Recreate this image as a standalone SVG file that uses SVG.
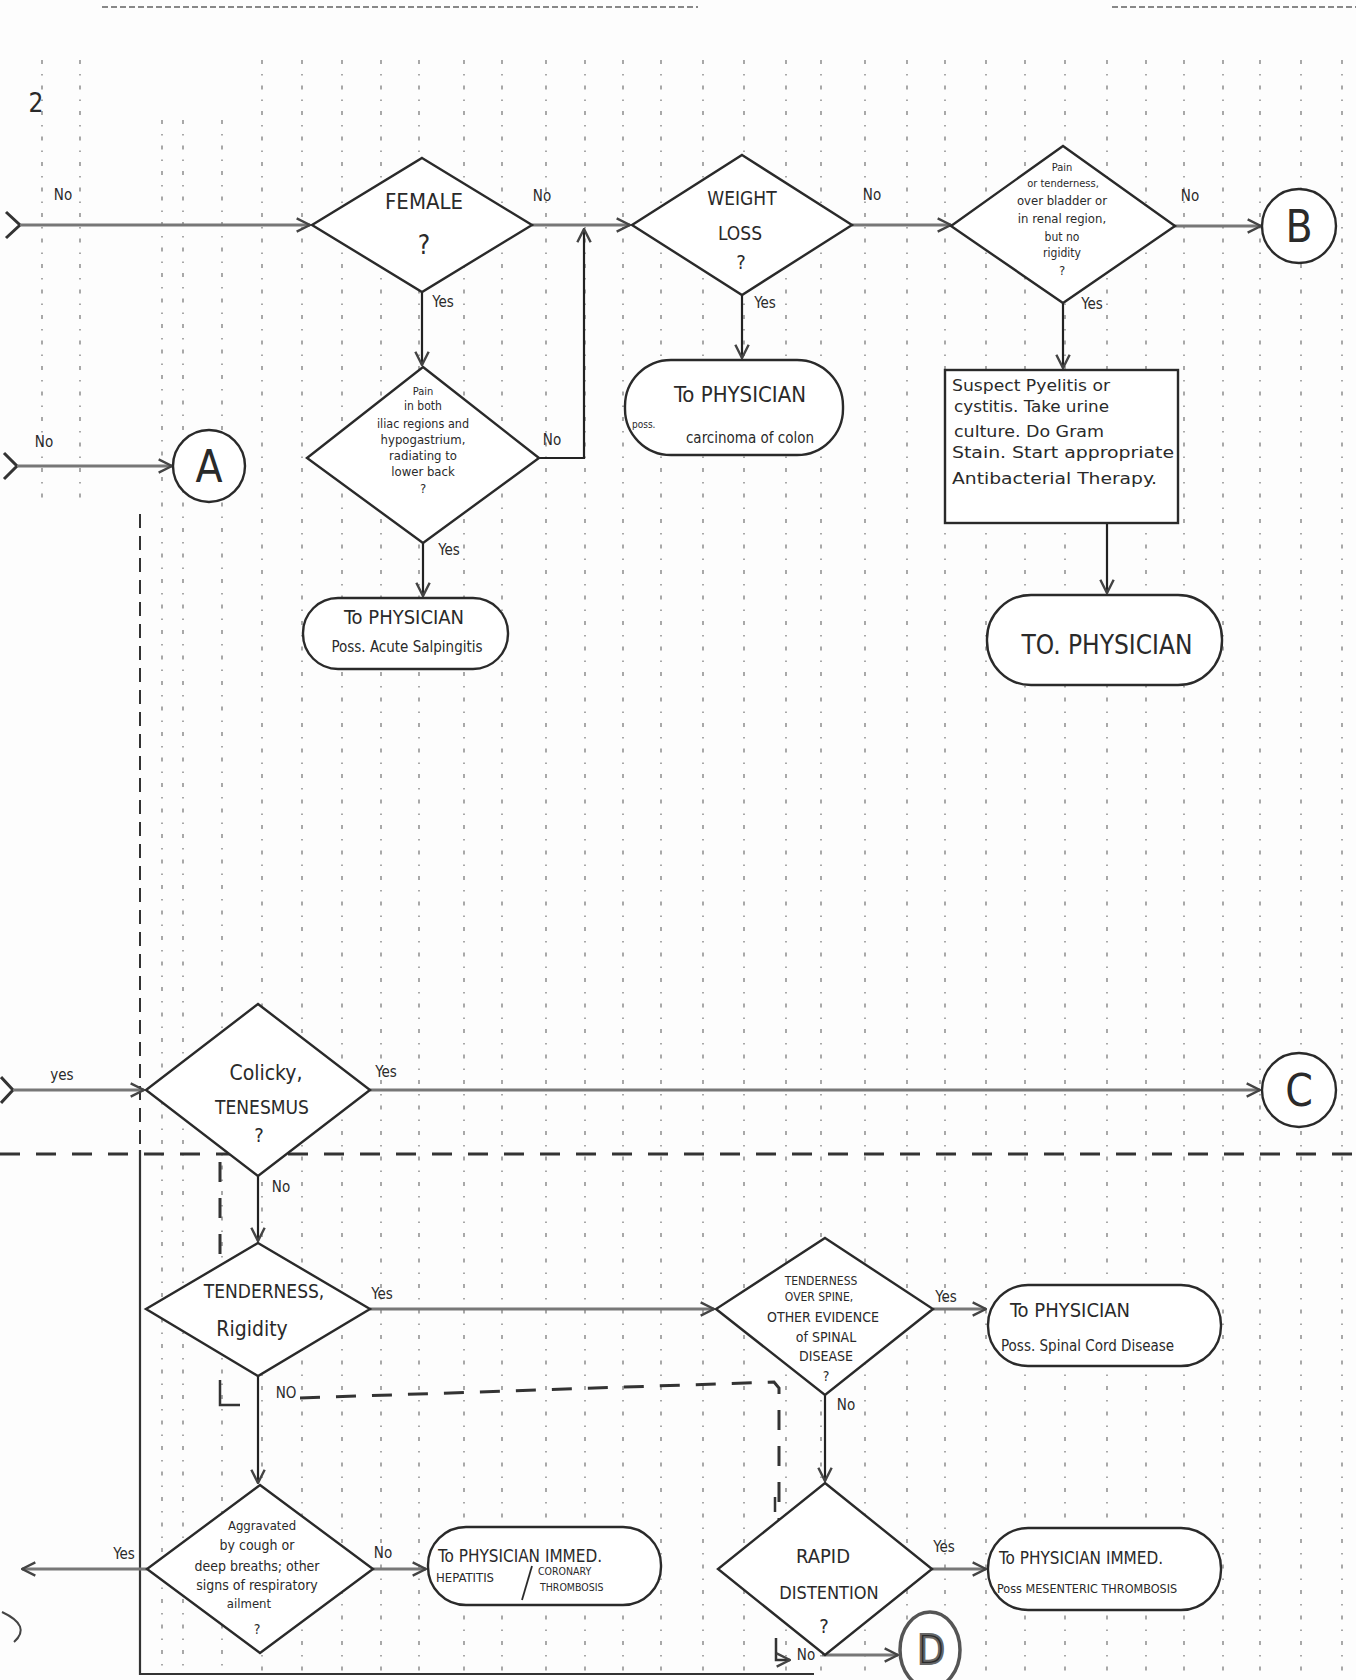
<svg xmlns="http://www.w3.org/2000/svg" width="1356" height="1680" viewBox="0 0 1356 1680">
<defs>
<style>
.bg{fill:#fdfdfd}
.grid{stroke:#5a5a5a;stroke-width:1.6;stroke-dasharray:4 10 1.5 10;fill:none;opacity:.65}
.nd{fill:#fff;stroke:#2a2a2a;stroke-width:2.4}
.t{font-family:"Liberation Sans Narrow","DejaVu Sans Condensed","Liberation Sans",sans-serif;fill:#2a2a2a;text-anchor:middle}
.s{text-anchor:start}
.lab{font-size:15px}
.h{stroke:#777;stroke-width:3;fill:none}
.v{stroke:#222;stroke-width:2.2;fill:none}
.tail{stroke:#333;stroke-width:3;fill:none}
.dash{stroke:#333;stroke-width:3;stroke-dasharray:20 16;fill:none}
.thin{stroke:#333;stroke-width:2.5;fill:none}
</style>
<marker id="ar" viewBox="0 0 12 12" markerWidth="16" markerHeight="16" refX="11" refY="6" orient="auto" markerUnits="userSpaceOnUse">
<path d="M1,1 L11,6 L1,11" fill="none" stroke="#444" stroke-width="1.8"/>
</marker>
</defs>
<rect class="bg" x="0" y="0" width="1356" height="1680"/>

<g id="background">
<path class="grid" d="M42,60 V500 M80,60 V500 M162,120 V1675 M183,120 V1675 M222,120 V1675 M262,60 V1675 M302,60 V1675 M342,60 V1675 M381,60 V1675 M419,60 V1675 M464,60 V1675 M502,60 V1675 M546,60 V1675 M585,60 V1675 M623,60 V1675 M661,60 V1675 M703,60 V1675 M744,60 V1675 M786,60 V1675 M821,60 V1675 M865,60 V1675 M907,60 V1675 M945,60 V1675 M986,60 V1675 M1025,60 V1675 M1065,60 V1675 M1107,60 V1675 M1146,60 V1675 M1184,60 V1675 M1223,60 V1675 M1260,60 V1675 M1301,60 V1675 M1342,60 V1675"/>
<path d="M102,7 H698 M1112,7 H1356" stroke="#555" stroke-width="2" stroke-dasharray="6 3" fill="none" opacity=".7"/>
<path d="M140,514 V1150" stroke="#333" stroke-width="2" stroke-dasharray="14 8" fill="none"/>
<path d="M140,1150 V1674 H814" stroke="#333" stroke-width="2.2" fill="none"/>
<path d="M2,1612 Q32,1626 14,1642" stroke="#444" stroke-width="2" fill="none"/>
<text class="t" x="36" y="112" font-size="26">2</text>
</g>

<g id="connectors">
<path class="tail" d="M6,212 L20,225 L6,238"/>
<path class="h" d="M20,225 H310" marker-end="url(#ar)"/>
<path class="h" d="M532,225 H630" marker-end="url(#ar)"/>
<path class="h" d="M852,225 H951" marker-end="url(#ar)"/>
<path class="h" d="M1173,226 H1261" marker-end="url(#ar)"/>
<path class="v" d="M422,292 V365" marker-end="url(#ar)"/>
<path class="v" d="M539,458 H584 V229" marker-end="url(#ar)"/>
<path class="v" d="M423,543 V596" marker-end="url(#ar)"/>
<path class="v" d="M742,295 V358" marker-end="url(#ar)"/>
<path class="v" d="M1063,303 V368" marker-end="url(#ar)"/>
<path class="v" d="M1107,523 V593" marker-end="url(#ar)"/>
<path class="tail" d="M4,453 L17,466 L4,479"/>
<path class="h" d="M17,466 H172" marker-end="url(#ar)"/>
<path class="tail" d="M1,1077 L13,1090 L1,1103"/>
<path class="h" d="M13,1090 H144" marker-end="url(#ar)"/>
<path class="h" d="M370,1090 H1260" marker-end="url(#ar)"/>
<path class="v" d="M258,1176 V1241" marker-end="url(#ar)"/>
<path class="h" d="M370,1309 H714" marker-end="url(#ar)"/>
<path class="h" d="M933,1309 H986" marker-end="url(#ar)"/>
<path class="v" d="M258,1376 V1483" marker-end="url(#ar)"/>
<path class="v" d="M825,1395 V1481" marker-end="url(#ar)"/>
<path class="h" d="M373,1569 H426" marker-end="url(#ar)"/>
<path class="h" d="M147,1569 H22" marker-end="url(#ar)"/>
<path class="h" d="M932,1569 H986" marker-end="url(#ar)"/>
<path class="h" d="M822,1655 H898" marker-end="url(#ar)"/>
<path class="dash" d="M0,1154 H1356"/>
<path class="dash" d="M220,1162 V1255"/>
<path class="thin" d="M220,1380 V1405 H240"/>
<path class="dash" d="M300,1398 L774,1382 L779,1388 V1545"/>
<path class="thin" d="M775,1497 V1512 M775,1598 V1614"/>
<path class="thin" d="M776,1638 V1660 H790" marker-end="url(#ar)"/>
</g>

<g id="n-female">
<path class="nd" d="M422,158 L532,225 L422,292 L312,225 Z"/>
<text class="t" x="424" y="209" font-size="22">FEMALE</text>
<text class="t" x="424" y="254" font-size="26">?</text>
</g>
<g id="n-weightloss">
<path class="nd" d="M742,155 L852,225 L742,295 L632,225 Z"/>
<text class="t" x="742" y="205" font-size="19">WEIGHT</text>
<text class="t" x="740" y="240" font-size="19">LOSS</text>
<text class="t" x="741" y="269" font-size="20">?</text>
</g>
<g id="n-bladder">
<path class="nd" d="M1063,146 L1175,226 L1063,303 L951,226 Z"/>
<text class="t" x="1062" y="171" font-size="11">Pain</text>
<text class="t" x="1063" y="187" font-size="11">or tenderness,</text>
<text class="t" x="1062" y="205" font-size="13">over bladder or</text>
<text class="t" x="1062" y="223" font-size="13">in renal region,</text>
<text class="t" x="1062" y="241" font-size="12">but no</text>
<text class="t" x="1062" y="257" font-size="12">rigidity</text>
<text class="t" x="1062" y="275" font-size="13">?</text>
</g>
<g id="n-B">
<circle class="nd" cx="1299" cy="226" r="37"/>
<text class="t" x="1299" y="242" font-size="44">B</text>
</g>
<g id="n-iliac">
<path class="nd" d="M423,367 L539,458 L423,543 L307,458 Z"/>
<text class="t" x="423" y="395" font-size="11">Pain</text>
<text class="t" x="423" y="410" font-size="12">in both</text>
<text class="t" x="423" y="428" font-size="12.5">iliac regions and</text>
<text class="t" x="423" y="444" font-size="13">hypogastrium,</text>
<text class="t" x="423" y="460" font-size="13">radiating to</text>
<text class="t" x="423" y="476" font-size="13">lower back</text>
<text class="t" x="423" y="493" font-size="13">?</text>
</g>
<g id="n-A">
<circle class="nd" cx="209" cy="466" r="36"/>
<text class="t" x="209" y="482" font-size="44">A</text>
</g>
<g id="n-salping">
<rect class="nd" x="303" y="598" width="205" height="71" rx="35"/>
<text class="t" x="404" y="624" font-size="20">To PHYSICIAN</text>
<text class="t" x="407" y="652" font-size="15">Poss. Acute Salpingitis</text>
</g>
<g id="n-colon">
<rect class="nd" x="625" y="360" width="218" height="95" rx="46"/>
<text class="t" x="740" y="402" font-size="22">To PHYSICIAN</text>
<text class="t s" x="632" y="428" font-size="10">poss.</text>
<text class="t" x="750" y="443" font-size="15">carcinoma of colon</text>
</g>
<g id="n-pyelitis">
<rect class="nd" x="945" y="370" width="233" height="153"/>
<text class="t s" x="952" y="391" font-size="16" textLength="158" lengthAdjust="spacingAndGlyphs">Suspect Pyelitis or</text>
<text class="t s" x="954" y="412" font-size="16" textLength="155" lengthAdjust="spacingAndGlyphs">cystitis. Take urine</text>
<text class="t s" x="954" y="437" font-size="16" textLength="150" lengthAdjust="spacingAndGlyphs">culture. Do Gram</text>
<text class="t s" x="952" y="458" font-size="16" textLength="222" lengthAdjust="spacingAndGlyphs">Stain. Start appropriate</text>
<text class="t s" x="952" y="484" font-size="16" textLength="205" lengthAdjust="spacingAndGlyphs">Antibacterial Therapy.</text>
</g>
<g id="n-tophys">
<rect class="nd" x="987" y="595" width="235" height="90" rx="44"/>
<text class="t" x="1107" y="654" font-size="26">TO. PHYSICIAN</text>
</g>

<g id="n-colicky">
<path class="nd" d="M258,1004 L370,1090 L258,1176 L146,1090 Z"/>
<text class="t" x="266" y="1080" font-size="21">Colicky,</text>
<text class="t" x="262" y="1114" font-size="19">TENESMUS</text>
<text class="t" x="259" y="1142" font-size="20">?</text>
</g>
<g id="n-C">
<circle class="nd" cx="1299" cy="1090" r="37"/>
<text class="t" x="1299" y="1106" font-size="44">C</text>
</g>
<g id="n-tender">
<path class="nd" d="M258,1243 L370,1309 L258,1376 L146,1309 Z"/>
<text class="t" x="264" y="1298" font-size="19">TENDERNESS,</text>
<text class="t" x="252" y="1336" font-size="21">Rigidity</text>
</g>
<g id="n-spine">
<path class="nd" d="M825,1238 L933,1309 L825,1395 L716,1309 Z"/>
<text class="t" x="821" y="1285" font-size="12">TENDERNESS</text>
<text class="t" x="819" y="1301" font-size="12">OVER SPINE,</text>
<text class="t" x="823" y="1322" font-size="14">OTHER EVIDENCE</text>
<text class="t" x="826" y="1342" font-size="14">of SPINAL</text>
<text class="t" x="826" y="1361" font-size="14">DISEASE</text>
<text class="t" x="826" y="1381" font-size="14">?</text>
</g>
<g id="n-spinecord">
<rect class="nd" x="988" y="1285" width="233" height="81" rx="40"/>
<text class="t s" x="1010" y="1317" font-size="20">To PHYSICIAN</text>
<text class="t s" x="1001" y="1351" font-size="15">Poss. Spinal Cord Disease</text>
</g>
<g id="n-resp">
<path class="nd" d="M260,1485 L373,1569 L260,1653 L147,1569 Z"/>
<text class="t" x="262" y="1530" font-size="13">Aggravated</text>
<text class="t" x="257" y="1550" font-size="14">by cough or</text>
<text class="t" x="257" y="1571" font-size="14">deep breaths; other</text>
<text class="t" x="257" y="1590" font-size="14">signs of respiratory</text>
<text class="t" x="249" y="1608" font-size="13">ailment</text>
<text class="t" x="257" y="1634" font-size="14">?</text>
</g>
<g id="n-hepatitis">
<rect class="nd" x="428" y="1527" width="233" height="78" rx="38"/>
<text class="t s" x="438" y="1562" font-size="17">To PHYSICIAN IMMED.</text>
<text class="t s" x="436" y="1582" font-size="13">HEPATITIS</text>
<path d="M532,1566 L522,1600" stroke="#2a2a2a" stroke-width="1.8"/>
<text class="t s" x="538" y="1575" font-size="10.5">CORONARY</text>
<text class="t s" x="540" y="1591" font-size="10.5">THROMBOSIS</text>
</g>
<g id="n-rapid">
<path class="nd" d="M825,1483 L932,1569 L825,1655 L718,1569 Z"/>
<text class="t" x="823" y="1563" font-size="20">RAPID</text>
<text class="t" x="829" y="1599" font-size="18">DISTENTION</text>
<text class="t" x="824" y="1633" font-size="20">?</text>
</g>
<g id="n-mesenteric">
<rect class="nd" x="988" y="1528" width="233" height="82" rx="40"/>
<text class="t s" x="999" y="1564" font-size="17">To PHYSICIAN IMMED.</text>
<text class="t s" x="997" y="1593" font-size="12.5">Poss MESENTERIC THROMBOSIS</text>
</g>
<g id="n-D">
<ellipse cx="930" cy="1650" rx="30" ry="38" fill="#fff" stroke="#555" stroke-width="3.5"/>
<text class="t" x="931" y="1664" font-size="40" fill="#eee" stroke="#666" stroke-width="2">D</text>
</g>

<g id="labels">
<text class="t lab" x="63" y="200" font-size="19">No</text>
<text class="t lab" x="44" y="447" font-size="19">No</text>
<text class="t lab" x="62" y="1080" font-size="20">yes</text>
<text class="t lab" x="542" y="201">No</text>
<text class="t lab" x="443" y="307">Yes</text>
<text class="t lab" x="552" y="445">No</text>
<text class="t lab" x="449" y="555">Yes</text>
<text class="t lab" x="872" y="200">No</text>
<text class="t lab" x="765" y="308">Yes</text>
<text class="t lab" x="1190" y="201">No</text>
<text class="t lab" x="1092" y="309">Yes</text>
<text class="t lab" x="386" y="1077">Yes</text>
<text class="t lab" x="281" y="1192">No</text>
<text class="t lab" x="382" y="1299">Yes</text>
<text class="t lab" x="286" y="1398">NO</text>
<text class="t lab" x="946" y="1302">Yes</text>
<text class="t lab" x="846" y="1410">No</text>
<text class="t lab" x="124" y="1559">Yes</text>
<text class="t lab" x="383" y="1558">No</text>
<text class="t lab" x="944" y="1552">Yes</text>
<text class="t lab" x="806" y="1660">No</text>
</g>
</svg>
